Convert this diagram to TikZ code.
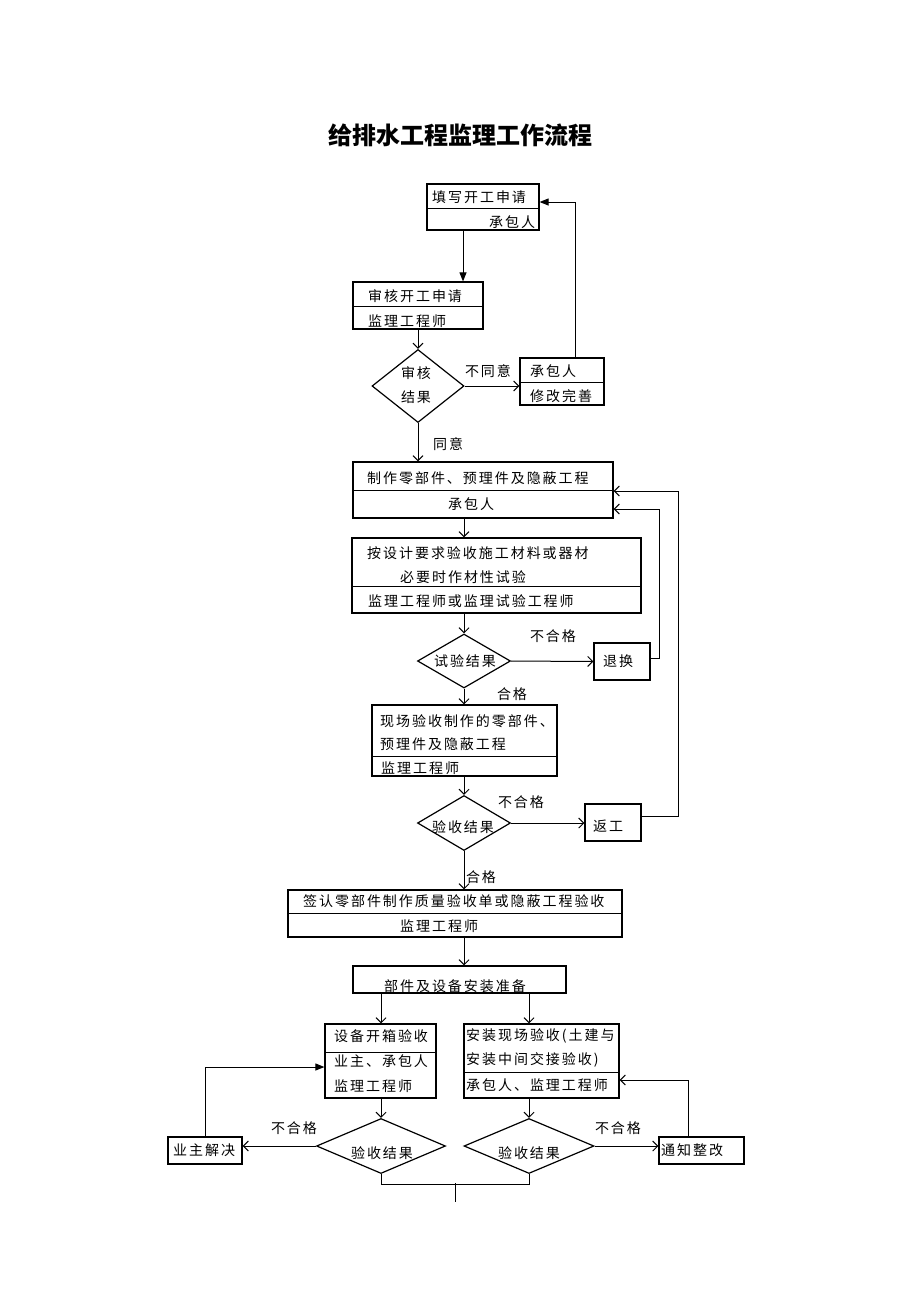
\documentclass[tikz,border=0pt]{standalone}
\usepackage{fontspec}
\setmainfont{Noto Sans CJK SC}
\newfontfamily\cjk[LetterSpace=14]{Noto Sans CJK SC}
\usetikzlibrary{shapes.geometric,arrows.meta}
\begin{document}
\begin{tikzpicture}[x=1pt,y=-1pt,
    box/.style={draw,line width=1.2pt,inner sep=0pt},
    dia/.style={diamond,draw,line width=1.2pt,inner sep=0pt},
    txt/.style={inner sep=0pt,font=\cjk\fontsize{14}{14}\selectfont},
    sep/.style={line width=0.9pt},
    ln/.style={line width=1pt},
    arrO/.style={line width=1pt,-{Straight Barb[length=5pt,width=10pt]}},
    arrF/.style={line width=1pt,-{Triangle[length=9pt,width=7pt]}}]
    \useasboundingbox (0,0) rectangle (920,1302);
    % Title
    \node[font=\bfseries\fontsize{24}{24}\selectfont] (title) at (460,135) {给排水工程监理工作流程};

    % Apply
    \node[box,minimum width=112,minimum height=46] (b1) at (483,207) {};
    \draw[sep] (b1.west |- 0,208) -- (b1.east |- 0,208);
    \node[txt,anchor=west] (t1a) at (432,197) {填写开工申请};
    \node[txt,anchor=west] (t1b) at (489,222) {承包人};
    % Check
    \node[box,minimum width=130,minimum height=47] (b2) at (418,305.5) {};
    \draw[sep] (b2.west |- 0,306) -- (b2.east |- 0,306);
    \node[txt,anchor=west] (t2a) at (368,296) {审核开工申请};
    \node[txt,anchor=west] (t2b) at (368,321) {监理工程师};
    \node[dia,minimum width=92,minimum height=73] (d1) at (418,386) {};
    \node[txt] (t1c) at (416,373) {审核};
    \node[txt] (t1d) at (416,397) {结果};
    \node[box,minimum width=84,minimum height=47] (b3) at (562,381.5) {};
    \draw[sep] (b3.west |- 0,382) -- (b3.east |- 0,382);
    \node[txt,anchor=west] (t3a) at (530,371) {承包人};
    \node[txt,anchor=west] (t3b) at (530,396) {修改完善};
    \node[txt] (l1) at (488,371) {不同意};
    \node[txt,anchor=west] (l2) at (433,444) {同意};

    % Parts
    \node[box,minimum width=260,minimum height=56] (b4) at (483,490) {};
    \draw[sep] (b4.west |- 0,490) -- (b4.east |- 0,490);
    \node[txt,anchor=west] (t4a) at (367,478) {制作零部件、预理件及隐蔽工程};
    \node[txt,anchor=west] (t4b) at (448,504) {承包人};
    % Materials
    \node[box,minimum width=289,minimum height=75] (b5) at (496.5,575.5) {};
    \draw[sep] (b5.west |- 0,586) -- (b5.east |- 0,586);
    \node[txt,anchor=west] (t5a) at (367,553) {按设计要求验收施工材料或器材};
    \node[txt,anchor=west] (t5b) at (400,577) {必要时作材性试验};
    \node[txt,anchor=west] (t5c) at (368,601) {监理工程师或监理试验工程师};
    \node[dia,minimum width=93,minimum height=54] (d2) at (464,661) {};
    \node[txt] (t2c) at (465,661) {试验结果};
    \node[box,minimum width=56,minimum height=37] (b6) at (622,661.5) {};
    \node[txt,anchor=west] (t6) at (603,661) {退换};
    \node[txt] (l3) at (553,636) {不合格};
    \node[txt] (l4) at (512,694) {合格};

    % Site check
    \node[box,minimum width=185,minimum height=71] (b7) at (464.5,740.5) {};
    \draw[sep] (b7.west |- 0,756) -- (b7.east |- 0,756);
    \node[txt,anchor=west] (t7a) at (380,721) {现场验收制作的零部件、};
    \node[txt,anchor=west] (t7b) at (380,744) {预理件及隐蔽工程};
    \node[txt,anchor=west] (t7c) at (381,768) {监理工程师};
    \node[dia,minimum width=93,minimum height=55] (d3) at (464,823) {};
    \node[txt] (t3c) at (463,827) {验收结果};
    \node[box,minimum width=56,minimum height=37] (b8) at (613,822.5) {};
    \node[txt,anchor=west] (t8) at (593,826) {返工};
    \node[txt] (l5) at (521,802) {不合格};
    \node[txt] (l6) at (481,877) {合格};

    % Sign
    \node[box,minimum width=334,minimum height=47] (b9) at (455,913.5) {};
    \draw[sep] (b9.west |- 0,913) -- (b9.east |- 0,913);
    \node[txt,anchor=west] (t9a) at (303,901) {签认零部件制作质量验收单或隐蔽工程验收};
    \node[txt,anchor=west] (t9b) at (400,926) {监理工程师};
    \node[box,minimum width=213,minimum height=27] (b10) at (459.5,979.5) {};
    \node[txt] (t10) at (455,986) {部件及设备安装准备};

    % Equipment
    \node[box,minimum width=111,minimum height=74] (b11) at (380.5,1061) {};
    \draw[sep] (b11.west |- 0,1052) -- (b11.east |- 0,1052);
    \node[txt,anchor=west] (t11a) at (334,1036) {设备开箱验收};
    \node[txt,anchor=west] (t11b) at (334,1061) {业主、承包人};
    \node[txt,anchor=west] (t11c) at (334,1086) {监理工程师};
    \node[dia,minimum width=129,minimum height=55] (d4) at (381,1146) {};
    \node[txt] (t4c) at (382,1153) {验收结果};
    \node[box,minimum width=74,minimum height=27] (b13) at (205,1150.5) {};
    \node[txt,anchor=west] (t13) at (173,1150) {业主解决};
    \node[txt] (l7) at (294,1128) {不合格};
    % Installation
    \node[box,minimum width=155,minimum height=74] (b12) at (541.5,1061) {};
    \draw[sep] (b12.west |- 0,1072) -- (b12.east |- 0,1072);
    \node[txt,anchor=west] (t12a) at (466,1036) {安装现场验收(土建与};
    \node[txt,anchor=west] (t12b) at (466,1060) {安装中间交接验收)};
    \node[txt,anchor=west] (t12c) at (466,1085) {承包人、监理工程师};
    \node[dia,minimum width=130,minimum height=55] (d5) at (529,1146) {};
    \node[txt] (t5d) at (529,1153) {验收结果};
    \node[box,minimum width=85,minimum height=27] (b14) at (701.5,1150.5) {};
    \node[txt,anchor=west] (t14) at (661,1150) {通知整改};
    \node[txt] (l8) at (618,1128) {不合格};
    \coordinate (j) at (455,1183);
    \coordinate (e) at (455,1202);

    % Arrows
    \draw[arrF] ([xshift=-20pt]b1.south) -- ([xshift=-20pt]b1.south |- b2.north);
    \draw[arrO] (b2.south) -- (d1.north);
    \draw[arrO] (d1.east) -- (d1.east -| b3.west);
    \draw[arrF] ([xshift=13pt]b3.north) |- ([yshift=5pt]b1.east);
    \draw[arrO] (d1.south) -- (d1.south |- b4.north);
    \draw[arrO] (b4.south -| d2) -- (b5.north -| d2);
    \draw[arrO] (b5.south -| d2) -- (d2.north);
    \draw[arrO] (d2.east) -- (b6.west);
    \draw[arrO] ([yshift=3pt]b6.east) -- ++(9,0) |- ([yshift=-19pt]b4.east);
    \draw[arrO] (d2.south) -- (b7.north -| d2);
    \draw[arrO] (b7.south -| d3) -- (d3.north);
    \draw[arrO] (d3.east) -- (d3.east -| b8.west);
    \draw[arrO] ([yshift=6pt]b8.east) -- ++(37,0) |- ([yshift=-1pt]b4.east);
    \draw[arrO] (d3.south) -- (d3.south |- b9.north);
    \draw[arrO] (b9.south -| d3) -- (b10.north -| d3);
    \draw[arrO] (b10.south -| d4) -- (b11.north -| d4);
    \draw[arrO] (b10.south -| d5) -- (b12.north -| d5);
    \draw[arrO] (b11.south -| d4) -- (d4.north);
    \draw[arrO] (b12.south -| d5) -- (d5.north);
    \draw[arrO] (d4.west) -- (d4.west -| b13.east);
    \draw[arrF] (b13.north) |- ([yshift=-6pt]b11.west);
    \draw[arrO] (d5.east) -- (d5.east -| b14.west);
    \draw[arrO] ([xshift=-13pt]b14.north) |- ([yshift=-19pt]b12.east);
    \draw[ln] (d4.south) -- ++(0,10) -| (d5.south);
    \draw[ln] (j) -- (e);
\end{tikzpicture}
\end{document}
